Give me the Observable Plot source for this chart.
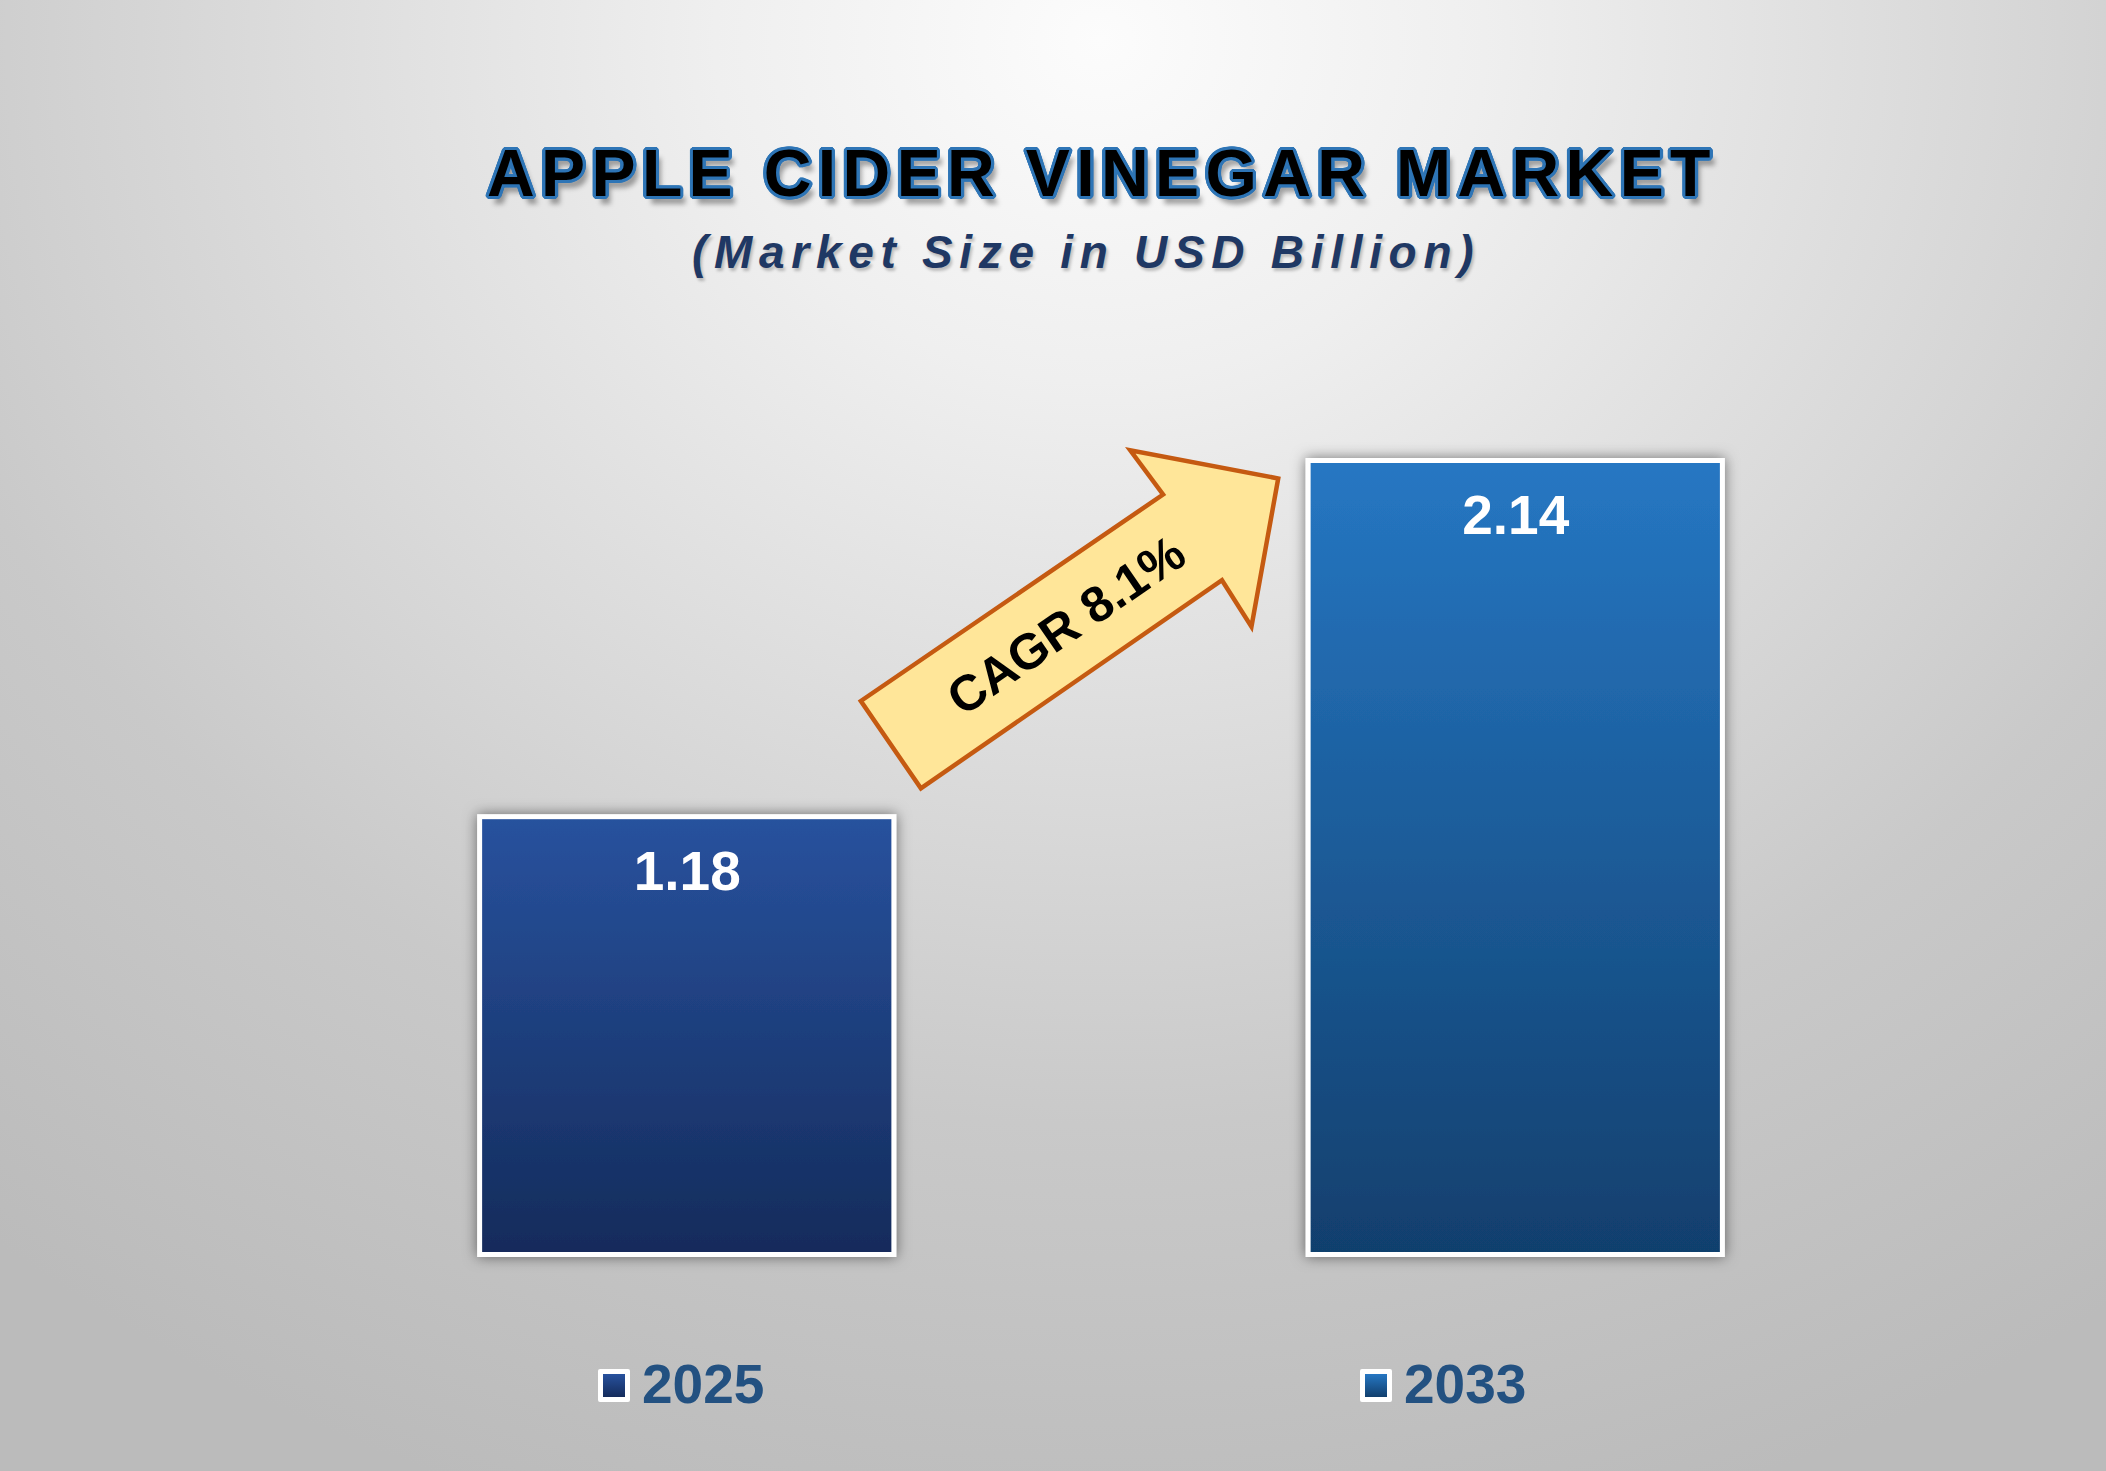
<!DOCTYPE html>
<html>
<head>
<meta charset="utf-8">
<script src="https://cdn.jsdelivr.net/npm/d3@7"></script>
<script src="https://cdn.jsdelivr.net/npm/@observablehq/plot@0.6"></script>
<style>
  html, body { margin: 0; padding: 0; }
  body { width: 2106px; height: 1471px; overflow: hidden; }
  #stage {
    position: relative; width: 2106px; height: 1471px; overflow: hidden;
    font-family: "Liberation Sans", Arial, Helvetica, sans-serif;
    background: radial-gradient(ellipse 1750px 1550px at 1100px 40px,
      #fcfcfc 0%, #efefef 22%, #dcdcdc 46%, #c9c9c9 70%, #bbbbbb 100%);
  }
  #chart { position: absolute; left: 0; top: 0; }
  #title {
    position: absolute; left: 487px; top: 140px; white-space: nowrap;
    font-size: 66px; line-height: 1; font-weight: bold; letter-spacing: 6.4px;
    color: #000;
  }
  #subtitle {
    position: absolute; left: 692px; top: 229px; white-space: nowrap;
    font-size: 46px; line-height: 1; font-weight: bold; font-style: italic;
    letter-spacing: 6.7px; color: #1f3864;
    text-shadow: 2px 3px 3px rgba(0,0,0,0.22);
  }
  .legend-swatch {
    position: absolute; width: 32px; height: 33px; box-sizing: border-box;
    border: 5px solid #fff; border-radius: 2px;
  }
  .legend-label {
    position: absolute; white-space: nowrap; font-size: 55px; line-height: 1;
    font-weight: bold; color: #235181;
  }
</style>
</head>
<body>
<div id="stage">
  <div id="chart"></div>
  <div id="title"></div>
  <div id="subtitle"></div>
  <div id="legend"></div>
</div>
<script>
// ---------- data ----------
const years = ["2025", "2033"];
const values = [1.18, 2.14];
const cagrLabel = "CAGR 8.1%";
const titleText = "APPLE CIDER VINEGAR MARKET";
const subtitleText = "(Market Size in USD Billion)";

// ---------- styles ----------
const barTopColors = ["#28529e", "#2677c3"];
const barBottomColors = ["#142b5b", "#113f6d"];
const fontFamily = '"Liberation Sans", Arial, Helvetica, sans-serif';

// ---------- titles ----------
const titleEl = document.getElementById("title");
titleEl.textContent = titleText;
{
  const parts = [];
  const r = 3.2;
  for (let a = 0; a < 360; a += 22.5) {
    const rad = a * Math.PI / 180;
    parts.push(`${(r * Math.cos(rad)).toFixed(2)}px ${(r * Math.sin(rad)).toFixed(2)}px 0 #2e75b6`);
  }
  parts.push("5px 8px 5px rgba(0,0,0,0.35)");
  titleEl.style.textShadow = parts.join(", ");
}
document.getElementById("subtitle").textContent = subtitleText;

// ---------- chart ----------
const data = years.map((year, i) => ({year, value: values[i]}));
const gradId = (y) => `bar-grad-${y}`;

const defsMark = () => {
  const defs = d3.create("svg:defs");
  years.forEach((y, i) => {
    const g = defs.append("linearGradient").attr("id", gradId(y))
      .attr("x1", 0).attr("y1", 0).attr("x2", 0).attr("y2", 1);
    g.append("stop").attr("offset", "0%").attr("stop-color", barTopColors[i]);
    g.append("stop").attr("offset", "100%").attr("stop-color", barBottomColors[i]);
  });
  const f = defs.append("filter").attr("id", "barShadow")
    .attr("x", "-15%").attr("y", "-15%").attr("width", "130%").attr("height", "130%");
  f.append("feDropShadow").attr("dx", 0).attr("dy", 0).attr("stdDeviation", 7)
    .attr("flood-color", "#000").attr("flood-opacity", 0.5);
  return defs.node();
};

const chart = Plot.plot({
  width: 2106,
  height: 1471,
  marginTop: 460.5,
  marginBottom: 216.5,
  marginLeft: 272.5,
  marginRight: 176.5,
  style: {background: "transparent", overflow: "visible"},
  x: {domain: years, paddingInner: 0.5, paddingOuter: 0.25, round: false, axis: null},
  y: {domain: [0, d3.max(values)], axis: null},
  color: {type: "identity"},
  marks: [
    defsMark,
    Plot.barY(data, {
      x: "year", y: "value",
      fill: (d) => `url(#${gradId(d.year)})`,
      stroke: "white", strokeWidth: 5
    }),
    Plot.text(data, {
      x: "year", y: "value",
      text: (d) => d3.format(".2f")(d.value),
      dy: 55, fill: "white", fontSize: 55, fontWeight: "bold",
      fontFamily
    })
  ]
});

const svg = d3.select(chart);
svg.selectAll("g[aria-label='bar']").attr("filter", "url(#barShadow)");

// ---------- CAGR arrow (positioned from the scales) ----------
const xs = chart.scale("x");
const ys = chart.scale("y");
const bar1Right = xs.apply(years[0]) + xs.bandwidth;
const bar1Top = ys.apply(values[0]);
const ox = bar1Right - 3, oy = bar1Top - 72;
const angle = -34.5;
// arrow outline in its own (rotated) frame: tail at origin, pointing along +x
const arrowShape = [[0, -53], [366, -52], [364, -107], [470, 0], [364, 107], [366, 52], [0, 53]];
const ag = svg.append("g").attr("transform", `translate(${ox},${oy}) rotate(${angle})`);
ag.append("polygon")
  .attr("points", arrowShape.map((p) => p.join(",")).join(" "))
  .attr("fill", "#ffe699").attr("stroke", "#c55a11").attr("stroke-width", 4.5)
  .attr("stroke-linejoin", "miter");
ag.append("text")
  .attr("x", 212).attr("y", 0).attr("dy", "0.36em")
  .attr("text-anchor", "middle")
  .attr("font-family", fontFamily).attr("font-weight", "bold").attr("font-size", 50)
  .attr("fill", "#000")
  .text(cagrLabel);

document.getElementById("chart").appendChild(chart);

// ---------- legend ----------
const legend = document.getElementById("legend");
const legendLeft = [598, 1360];
years.forEach((y, i) => {
  const sw = document.createElement("div");
  sw.className = "legend-swatch";
  sw.style.left = legendLeft[i] + "px";
  sw.style.top = "1369px";
  sw.style.background = `linear-gradient(to bottom, ${barTopColors[i]}, ${barBottomColors[i]})`;
  const lb = document.createElement("div");
  lb.className = "legend-label";
  lb.style.left = (legendLeft[i] + 44) + "px";
  lb.style.top = "1357px";
  lb.textContent = y;
  legend.appendChild(sw);
  legend.appendChild(lb);
});
</script>
</body>
</html>
